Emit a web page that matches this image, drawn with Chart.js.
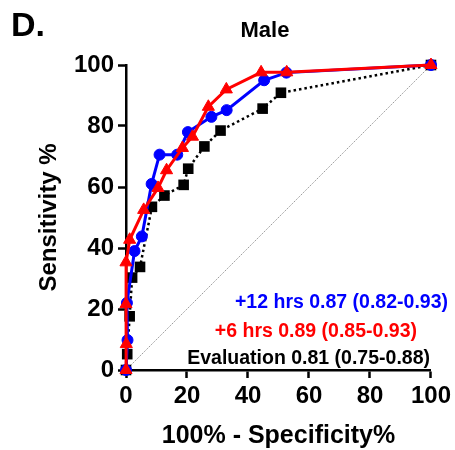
<!DOCTYPE html>
<html>
<head>
<meta charset="utf-8">
<script src="https://cdn.jsdelivr.net/npm/chart.js@4.4.1/dist/chart.umd.min.js"></script>
<style>
  html, body { margin: 0; padding: 0; background: #fff; overflow: hidden; }
  #wrap { width: 455px; height: 450px; position: relative; }
</style>
</head>
<body>
<div id="wrap"><canvas id="rocChart"></canvas></div>
<script>
// ROC points: 100% - specificity (x) vs sensitivity (y)
const evalX = [0, 0.4, 1.2, 2.0, 4.6, 8.5, 12.6, 18.9, 20.4, 25.7, 31.0, 44.8, 50.8, 100];
const evalY = [0, 5.2, 17.6, 30.3, 33.8, 53.5, 57.2, 60.7, 66.0, 73.3, 78.5, 85.7, 90.9, 100];

const h6X = [0, 0.1, 0, 0, 1.2, 5.8, 10.5, 13.3, 18.5, 21.8, 27.0, 32.9, 44.3, 52.7, 100];
const h6Y = [0, 8.5, 21.6, 35.3, 42.7, 52.5, 59.7, 65.5, 72.8, 76.5, 86.3, 92.0, 97.6, 97.6, 100];

const h12X = [0, 0.5, 0.3, 2.8, 5.2, 8.4, 11.0, 16.8, 20.3, 28.0, 33.0, 45.3, 52.6, 100];
const h12Y = [0, 9.8, 22.0, 39.0, 43.8, 61.0, 70.6, 70.6, 78.0, 83.0, 85.2, 95.0, 97.5, 100];

const refX = [0, 100];
const refY = [0, 100];

const axisTicks = [0, 20, 40, 60, 80, 100];

const aucLabels = [
    '+12 hrs 0.87 (0.82-0.93)',
    '+6 hrs 0.89 (0.85-0.93)',
    'Evaluation 0.81 (0.75-0.88)'
];

const toPoints = (xs, ys) => xs.map((x, i) => ({ x: x, y: ys[i] }));

const FONT = "'Liberation Sans', Arial, Helvetica, sans-serif";
const BLUE = '#0000ff';
const RED = '#ff0000';

// panel letter, title, axis titles and AUC text
const textPlugin = {
    id: 'rocText',
    afterDraw(chart) {
        const ctx = chart.ctx;
        const area = chart.chartArea;
        ctx.save();
        ctx.fillStyle = '#000';
        ctx.textBaseline = 'alphabetic';

        ctx.font = `bold 34px ${FONT}`;
        ctx.textAlign = 'left';
        ctx.fillText('D.', 11, 36);

        ctx.font = `bold 22px ${FONT}`;
        ctx.textAlign = 'center';
        ctx.fillText('Male', 265, 37);

        ctx.font = `bold 25px ${FONT}`;
        ctx.fillText('100% - Specificity%', (area.left + area.right) / 2, 443);

        ctx.save();
        ctx.translate(56, (area.top + area.bottom) / 2);
        ctx.rotate(-Math.PI / 2);
        ctx.font = `bold 24px ${FONT}`;
        ctx.fillText('Sensitivity %', 0, 0);
        ctx.restore();

        ctx.font = `bold 19.5px ${FONT}`;
        ctx.textAlign = 'right';
        ctx.fillStyle = BLUE;
        ctx.fillText(aucLabels[0], 448, 308);
        ctx.fillStyle = RED;
        ctx.fillText(aucLabels[1], 417, 337);
        ctx.fillStyle = '#000';
        ctx.fillText(aucLabels[2], 430, 364);
        ctx.restore();
    }
};

const axisStyle = {
    type: 'linear',
    min: 0,
    max: 100,
    grid: {
        drawOnChartArea: false,
        drawTicks: true,
        tickLength: 8,
        tickWidth: 2.5,
        tickColor: '#000'
    },
    border: { display: true, color: '#000', width: 2.5 },
    afterBuildTicks: (scale) => { scale.ticks = axisTicks.map(v => ({ value: v })); }
};

new Chart(document.getElementById('rocChart'), {
    type: 'scatter',
    data: {
        datasets: [
            {
                label: '+6 hrs',
                data: toPoints(h6X, h6Y),
                showLine: true,
                borderColor: RED,
                borderWidth: 3,
                backgroundColor: RED,
                pointStyle: 'triangle',
                pointRadius: 7,
                pointBorderWidth: 1,
                clip: false,
                order: 1
            },
            {
                label: '+12 hrs',
                data: toPoints(h12X, h12Y),
                showLine: true,
                borderColor: BLUE,
                borderWidth: 3,
                backgroundColor: BLUE,
                pointStyle: 'circle',
                pointRadius: 5.5,
                pointBorderWidth: 1,
                clip: false,
                order: 2
            },
            {
                label: 'Evaluation',
                data: toPoints(evalX, evalY),
                showLine: true,
                borderColor: '#000',
                borderWidth: 2.5,
                borderDash: [2.5, 3],
                backgroundColor: '#000',
                pointStyle: 'rect',
                pointRadius: 7.5,
                pointBorderWidth: 0,
                clip: false,
                order: 3
            },
            {
                label: 'reference',
                data: toPoints(refX, refY),
                showLine: true,
                borderColor: '#9a9a9a',
                borderWidth: 1,
                borderDash: [1.5, 1],
                pointRadius: 0,
                order: 4
            }
        ]
    },
    options: {
        responsive: true,
        maintainAspectRatio: false,
        animation: false,
        events: [],
        layout: { padding: { top: 65, right: 16, left: 0, bottom: 0 } },
        plugins: {
            legend: { display: false },
            tooltip: { enabled: false },
            title: { display: false }
        },
        scales: {
            x: Object.assign({}, axisStyle, {
                position: 'bottom',
                ticks: { color: '#000', padding: 4, font: { family: FONT, size: 24, weight: 'bold' } },
                afterFit: (scale) => { scale.height = 80; }
            }),
            y: Object.assign({}, axisStyle, {
                position: 'left',
                ticks: { color: '#000', padding: 4, font: { family: FONT, size: 24, weight: 'bold' } },
                afterFit: (scale) => { scale.width = 126; }
            })
        }
    },
    plugins: [textPlugin]
});
</script>
</body>
</html>
